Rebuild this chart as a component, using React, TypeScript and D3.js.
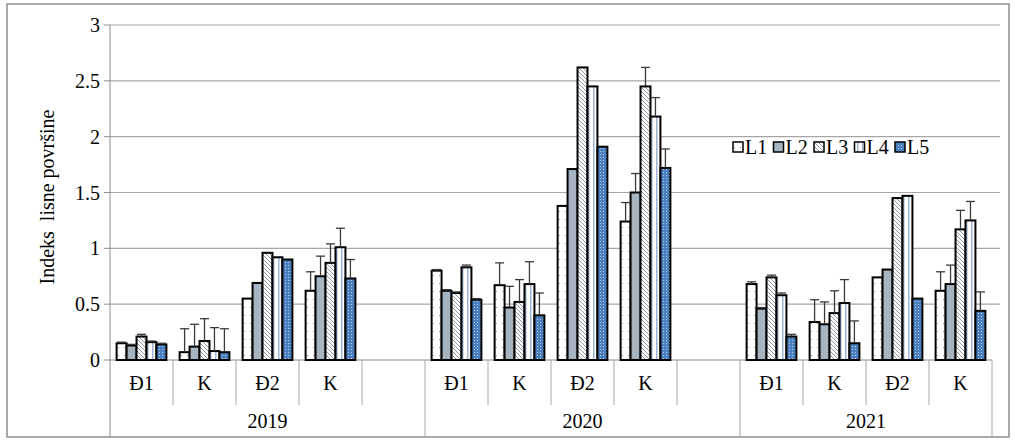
import React from "react";
import * as d3 from "d3";

const years = ["2019", "2020", "2021"];
const treatments = ["Đ1", "K", "Đ2", "K"];
const seriesNames = ["L1", "L2", "L3", "L4", "L5"];
const yTicks = [0, 0.5, 1, 1.5, 2, 2.5, 3];

const L1 = [0.15, 0.07, 0.55, 0.62, 0.8, 0.67, 1.38, 1.24, 0.68, 0.34, 0.74, 0.62];
const L2 = [0.13, 0.12, 0.69, 0.75, 0.62, 0.47, 1.71, 1.5, 0.46, 0.32, 0.81, 0.68];
const L3 = [0.21, 0.17, 0.96, 0.87, 0.6, 0.52, 2.62, 2.45, 0.74, 0.42, 1.45, 1.17];
const L4 = [0.16, 0.08, 0.92, 1.01, 0.83, 0.68, 2.45, 2.18, 0.58, 0.51, 1.47, 1.25];
const L5 = [0.14, 0.07, 0.9, 0.73, 0.54, 0.4, 1.91, 1.72, 0.21, 0.15, 0.55, 0.44];

const E1 = [0.01, 0.21, 0, 0.17, 0.01, 0.2, 0, 0.17, 0.02, 0.2, 0, 0.17];
const E2 = [0.01, 0.2, 0, 0.18, 0.01, 0.19, 0, 0.17, 0.01, 0.2, 0, 0.17];
const E3 = [0.02, 0.2, 0, 0.17, 0.01, 0.2, 0, 0.17, 0.02, 0.2, 0, 0.17];
const E4 = [0.01, 0.21, 0, 0.17, 0.02, 0.2, 0, 0.17, 0.02, 0.21, 0, 0.17];
const E5 = [0.01, 0.21, 0, 0.17, 0.01, 0.2, 0, 0.17, 0.02, 0.2, 0, 0.17];

const values = [L1, L2, L3, L4, L5];
const errors = [E1, E2, E3, E4, E5];

const W = 1015;
const H = 443;
const left = 110;
const right = 992;
const top = 25;
const bottom = 360;
const font = "Liberation Serif, DejaVu Serif, serif";
const fs = 20;

const slotKeys: string[] = [];
const catSlot: string[] = [];
years.forEach((y, yi) => {
  treatments.forEach((t, ti) => {
    const k = `${y}-${ti}`;
    slotKeys.push(k);
    catSlot.push(k);
  });
  if (yi < years.length - 1) slotKeys.push(`gap-${yi}`);
});

const fills = ["url(#pL1)", "url(#pL2)", "url(#pL3)", "url(#pL4)", "url(#pL5)"];
const ts: React.CSSProperties = { fontFamily: font };

export default function App() {
  const x = d3.scaleBand<string>().domain(slotKeys).range([left, right]).padding(0);
  const y = d3.scaleLinear().domain([0, 3]).range([bottom, top]);
  const sw = x.bandwidth();
  const inner = d3
    .scaleBand<string>()
    .domain(seriesNames)
    .range([sw * 0.105, sw * 0.895])
    .padding(0);
  const bw = inner.bandwidth();

  const yearStarts = years.map((yr) => x(`${yr}-0`)!);
  const yearBounds = [left, ...yearStarts.slice(1), right];

  return (
    <svg
      width={W}
      height={H}
      style={{ position: "absolute", left: 0, top: 0, background: "#fff", fontFamily: font }}
    >
      <defs>
        <pattern id="pL1" width="6" height="8" patternUnits="userSpaceOnUse">
          <rect width="6" height="8" fill="#fff" />
          <rect x="2" y="3" width="1" height="1" fill="#9a9a9a" />
        </pattern>
        <pattern id="pL2" width="2" height="2" patternUnits="userSpaceOnUse">
          <rect width="2" height="2" fill="#a9b7c2" />
          <rect x="0" y="0" width="1" height="1" fill="#9fadb9" />
        </pattern>
        <pattern id="pL3" width="4" height="4" patternUnits="userSpaceOnUse">
          <rect width="4" height="4" fill="#fff" />
          <path d="M-1,-1 L5,5 M-1,3 L1,5 M3,-1 L5,1" stroke="#8c9aa6" strokeWidth="1" />
        </pattern>
        <pattern id="pL4" width="5" height="4" patternUnits="userSpaceOnUse">
          <rect width="5" height="4" fill="#fff" />
          <rect x="2" y="0" width="1.5" height="4" fill="#9db4d2" />
        </pattern>
        <pattern id="pL5" width="3" height="3" patternUnits="userSpaceOnUse">
          <rect width="3" height="3" fill="#4a7fc0" />
          <rect x="1" y="1" width="1" height="1" fill="#b9cde6" />
        </pattern>
      </defs>

      <rect x={7} y={4} width={1002} height={433} fill="none" stroke="#8e8e8e" strokeWidth={1.5} />

      {yTicks.filter((t) => t > 0).map((t) => (
        <line key={t} x1={left} x2={1000} y1={y(t)} y2={y(t)} stroke="#a6a6a6" strokeWidth={1.2} />
      ))}

      <line x1={left} x2={left} y1={top} y2={437} stroke="#8e8e8e" strokeWidth={1} />
      {yTicks.map((t) => (
        <g key={t}>
          <line x1={left - 6} x2={left} y1={y(t)} y2={y(t)} stroke="#8e8e8e" />
          <text x={100} y={y(t)} dy="0.35em" textAnchor="end" fontSize={fs} fill="#000" style={ts}>
            {d3.format("")(t)}
          </text>
        </g>
      ))}
      <text
        transform={`translate(54,197) rotate(-90)`}
        textAnchor="middle"
        fontSize={fs}
        fill="#000"
        style={{ ...ts, whiteSpace: "pre" }}
      >
        {"Indeks  lisne površine"}
      </text>

      <line x1={left} x2={right} y1={bottom} y2={bottom} stroke="#8e8e8e" strokeWidth={1.2} />
      {slotKeys.map((k, i) => {
        const x0 = x(k)! + sw;
        if (i === slotKeys.length - 1) return null;
        const isYear = yearStarts.some((ys) => Math.abs(ys - x0) < 0.5);
        return (
          <line key={k} x1={x0} x2={x0} y1={bottom} y2={isYear ? 437 : 405} stroke="#a6a6a6" />
        );
      })}
      <line x1={right} x2={right} y1={bottom} y2={437} stroke="#a6a6a6" />
      {catSlot.map((k, i) => (
        <text key={k} x={x(k)! + sw / 2} y={383} dy="0.35em" textAnchor="middle" fontSize={fs} style={ts}>
          {treatments[i % 4]}
        </text>
      ))}
      {years.map((yr, i) => (
        <text
          key={yr}
          x={(yearBounds[i] + yearBounds[i + 1]) / 2}
          y={421}
          dy="0.35em"
          textAnchor="middle"
          fontSize={fs}
          style={ts}
        >
          {yr}
        </text>
      ))}

      {catSlot.map((k, ci) => (
        <g key={k} transform={`translate(${x(k)},0)`}>
          {seriesNames.map((s, si) => {
            const v = values[si][ci];
            const bx = inner(s)!;
            return (
              <rect
                key={s}
                x={bx}
                y={y(v)}
                width={bw}
                height={y(0) - y(v)}
                fill={fills[si]}
                stroke="#000"
                strokeWidth={2}
              />
            );
          })}
          {seriesNames.map((s, si) => {
            const v = values[si][ci];
            const e = errors[si][ci];
            if (!e) return null;
            const cx = inner(s)! + bw / 2;
            return (
              <g key={`e${s}`} stroke="#3a3a3a" strokeWidth={1.3}>
                <line x1={cx} x2={cx} y1={y(v)} y2={y(v + e)} />
                <line x1={cx - 4.5} x2={cx + 4.5} y1={y(v + e)} y2={y(v + e)} />
              </g>
            );
          })}
        </g>
      ))}

      {seriesNames.map((s, i) => {
        const lx = 733 + i * 40.5;
        return (
          <g key={s}>
            <rect x={lx} y={142} width={10} height={10} fill={fills[i]} stroke="#000" strokeWidth={1.5} />
            <text x={lx + 12} y={147} dy="0.35em" fontSize={fs} style={ts}>
              {s}
            </text>
          </g>
        );
      })}
    </svg>
  );
}
